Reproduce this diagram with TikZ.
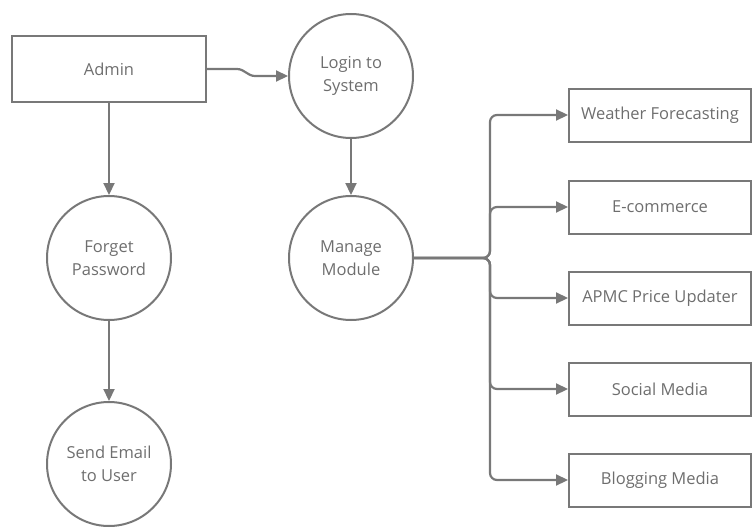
\documentclass[tikz,border=0pt]{standalone}
\usepackage{fontspec}
\setmainfont{Open Sans}
\usepackage{tikz}
\usetikzlibrary{arrows.meta}
\definecolor{linegray}{HTML}{787878}
\definecolor{textgray}{HTML}{6E6E6E}

\tikzset{
  link/.style={draw=linegray,line width=2.2pt,-{Triangle[length=12pt,width=11pt]}},
  entity/.style={draw=linegray,line width=2pt,rectangle,text=textgray,font=\fontsize{16.5}{23}\selectfont},
  process/.style={draw=linegray,line width=2pt,circle,minimum size=124pt,inner sep=0pt,align=center,text=textgray,font=\fontsize{16.5}{23}\selectfont},
  modbox/.style={entity,minimum width=182pt,minimum height=53pt}
}

\begin{document}
\begin{tikzpicture}[x=1pt,y=-1pt]
\useasboundingbox (0,0) rectangle (753,530);
\node[entity,minimum width=194pt,minimum height=66pt] (admin) at (109,69) {Admin};
\node[process] (login) at (351,76) {Login to\\System};
\node[process] (manage) at (351,258) {Manage\\Module};
\node[process] (forget) at (109,258) {Forget\\Password};
\node[process] (email) at (109,464) {Send Email\\to User};
\node[modbox] (weather) at (660,115) {Weather Forecasting};
\node[modbox] (ecom) at (660,207) {E-commerce};
\node[modbox] (apmc) at (660,298) {APMC Price Updater};
\node[modbox] (social) at (660,389) {Social Media};
\node[modbox] (blog) at (660,480) {Blogging Media};
\coordinate (split) at (490,258);

\draw[link] (admin.east) -- ++(30,0) to[out=0,in=180] ++(18,7) -- (login.west);
\draw[link] (admin.south) -- (forget.north);
\draw[link] (forget.south) -- (email.north);
\draw[link] (login.south) -- (manage.north);
\foreach \m in {weather,ecom,apmc,social,blog}
  \draw[link,rounded corners=7pt] (manage.east) -- (split) |- (\m.west);
\end{tikzpicture}
\end{document}
